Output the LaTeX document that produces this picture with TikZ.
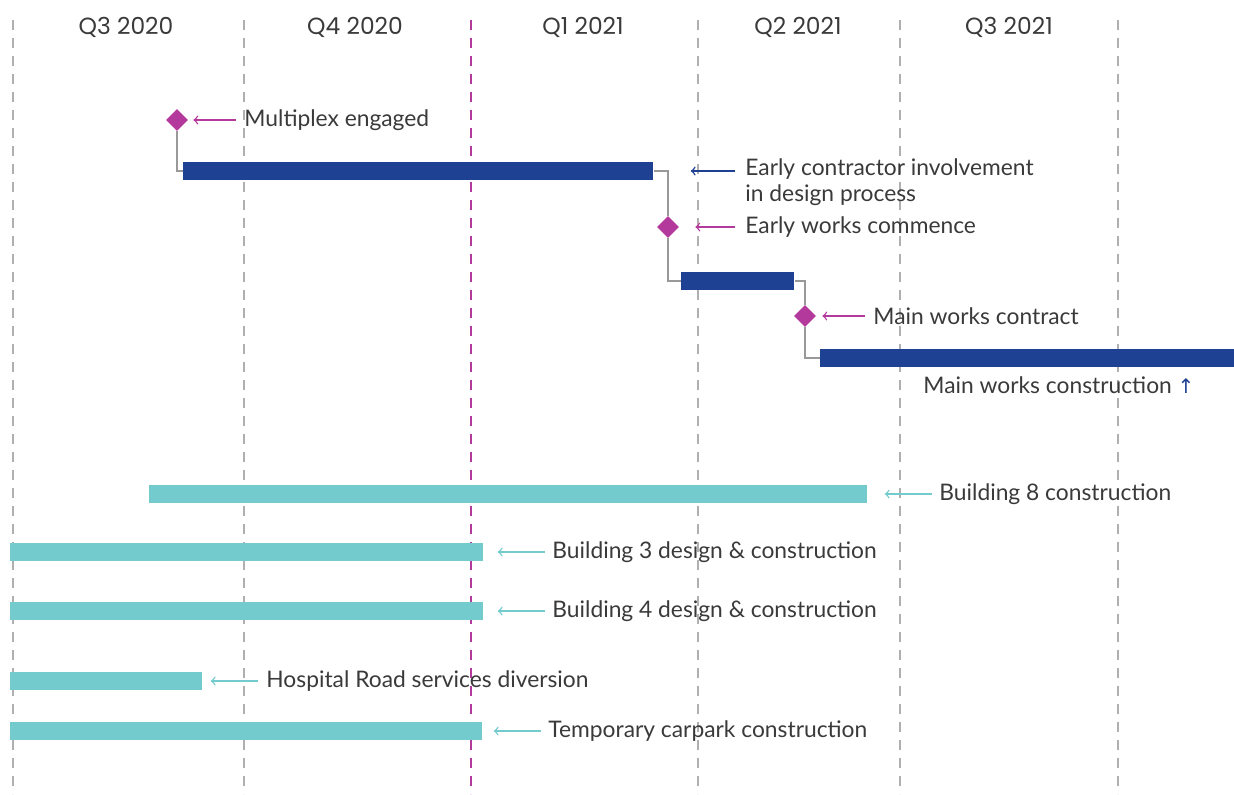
\documentclass[tikz,border=0pt]{standalone}
\usepackage{fontspec}
\setmainfont{Lato}
\newfontfamily\qfont{Poppins}
\newfontfamily\symfont{DejaVu Sans}
\usetikzlibrary{arrows,positioning,shapes}

\definecolor{ecidark}{HTML}{1E4194}
\definecolor{eciteal}{HTML}{74CBCE}
\definecolor{ecimag}{HTML}{B4399C}
\definecolor{ecigrid}{HTML}{B0B0B0}
\definecolor{ecitext}{HTML}{3A3A3A}
\definecolor{ecilink}{HTML}{999999}

\begin{document}
\begin{tikzpicture}[x=0.5pt,y=-0.5pt,>=to,
	gridline/.style={ecigrid,line width=0.6pt,dash pattern=on 5pt off 4pt},
	dkbar/.style={rectangle,fill=ecidark,inner sep=0,minimum height=9pt,anchor=west},
	tlbar/.style={rectangle,fill=eciteal,inner sep=0,minimum height=9pt,anchor=west},
	milestone/.style={diamond,fill=ecimag,inner sep=0,minimum size=11pt},
	lab/.style={inner sep=0,anchor=west,text=ecitext,font=\fontsize{11.4}{13}\selectfont},
	link/.style={ecilink,line width=1pt},
	arr/.style={->,line width=0.7pt}]
	\useasboundingbox (0,0) rectangle (1234,794);

	% quarter grid
	\foreach \gx in {13,244,698,900,1118}
		\draw[gridline] (\gx,20) -- (\gx,794);
	\draw[gridline,ecimag] (471,20) -- (471,794);
	\foreach \qx/\qtext in {126/Q3 2020,355/Q4 2020,583/Q1 2021,798/Q2 2021,1009/Q3 2021}
		\node[text=ecitext,font=\qfont\fontsize{11.7}{13}\selectfont] at (\qx,27) {\qtext};

	% contract stages
	\node[milestone] (ms1) at (177,120) {};
	\node[dkbar,minimum width=235pt] (bar1) at (183,171) {};
	\node[milestone] (ms2) at (668,227) {};
	\node[dkbar,minimum width=56.5pt] (bar2) at (681,281) {};
	\node[milestone] (ms3) at (805,316) {};
	\node[dkbar,minimum width=207pt] (bar3) at (820,358) {};

	\draw[link] (ms1.south) |- (bar1.west);
	\draw[link] (bar1.east) -| (ms2.north);
	\draw[link] (ms2.south) |- (bar2.west);
	\draw[link] (bar2.east) -| (ms3.north);
	\draw[link] (ms3.south) |- (bar3.west);

	\node[lab] (ms1lab) at (244,120) {Multiplex engaged};
	\node[lab,anchor=north west,align=left] (ecilab) at (745,158) {Early contractor involvement\\in design process};
	\node[lab] (ms2lab) at (745,227) {Early works commence};
	\node[lab] (ms3lab) at (873,316) {Main works contract};
	\node[lab] (bar3lab) at (923,385) {Main works construction {\color{ecidark}\symfont\fontsize{10}{12}\selectfont ↑}};

	\draw[arr,ecimag,shorten <=4pt,shorten >=2.5pt] (ms1lab.west) -- (ms1.east);
	\draw[arr,ecidark,shorten <=5pt,shorten >=18.5pt] (bar1 -| ecilab.west) -- (bar1.east);
	\draw[arr,ecimag,shorten <=5pt,shorten >=8pt] (ms2lab.west) -- (ms2.east);
	\draw[arr,ecimag,shorten <=4pt,shorten >=3pt] (ms3lab.west) -- (ms3.east);

	% site works
	\node[tlbar,minimum width=359pt] (b8) at (149,494) {};
	\node[tlbar,minimum width=236.5pt] (b3) at (10,552) {};
	\node[tlbar,minimum width=236.5pt] (b4) at (10,611) {};
	\node[tlbar,minimum width=96pt] (hrd) at (10,681) {};
	\node[tlbar,minimum width=236pt] (tcp) at (10,731) {};

	\node[lab] (b8lab) at (939,494) {Building 8 construction};
	\node[lab] (b3lab) at (552,552) {Building 3 design \& construction};
	\node[lab] (b4lab) at (552,611) {Building 4 design \& construction};
	\node[lab] (hrdlab) at (266,681) {Hospital Road services diversion};
	\node[lab] (tcplab) at (548,731) {Temporary carpark construction};

	\draw[arr,eciteal,shorten <=3.5pt,shorten >=8.5pt] (b8lab.west) -- (b8.east);
	\draw[arr,eciteal,shorten <=3.5pt,shorten >=7pt] (b3lab.west) -- (b3.east);
	\draw[arr,eciteal,shorten <=3.5pt,shorten >=7pt] (b4lab.west) -- (b4.east);
	\draw[arr,eciteal,shorten <=4pt,shorten >=4pt] (hrdlab.west) -- (hrd.east);
	\draw[arr,eciteal,shorten <=3.5pt,shorten >=5.5pt] (tcplab.west) -- (tcp.east);
\end{tikzpicture}
\end{document}
